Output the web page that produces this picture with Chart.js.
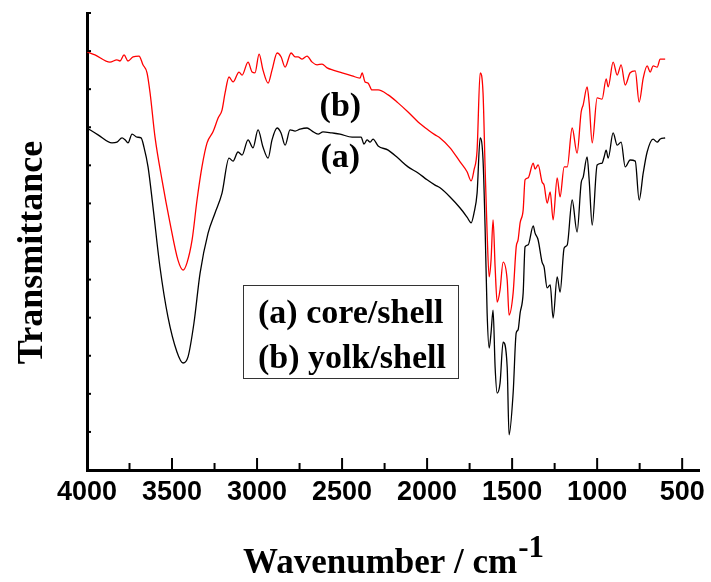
<!DOCTYPE html>
<html><head><meta charset="utf-8">
<script src="https://cdn.jsdelivr.net/npm/chart.js@4.4.0/dist/chart.umd.min.js"></script>
<style>html,body{margin:0;padding:0;background:#fff;}canvas{display:block;}</style>
</head><body>
<canvas id="c" width="711" height="582"></canvas>
<script>
// (a) core/shell — black
const wavenumberA = [4000,3935,3853,3824,3794,3776,3759,3735,3706,3682,
 3665,3641,3612,3571,3524,3471,3435,3406,3371,3335,
 3288,3247,3206,3165,3141,3112,3088,3053,3024,2994,
 2965,2935,2912,2882,2859,2835,2806,2776,2747,2706,
 2676,2641,2612,2559,2512,2441,2388,2371,2353,2335,
 2318,2288,2229,2171,2112,2053,2000,1953,1924,1865,
 1806,1765,1741,1724,1706,1688,1671,1659,1647,1635,
 1624,1612,1600,1588,1571,1553,1529,1518,1494,1476,
 1465,1453,1435,1424,1406,1376,1365,1347,1324,1312,
 1294,1276,1259,1235,1218,1194,1176,1147,1118,1094,
 1082,1059,1047,1029,1000,971,959,947,935,906,
 882,859,835,806,776,753,729,706,671,647,
 629,600];
const transmittanceA = [8.98,8.80,8.59,8.61,8.72,8.67,8.59,8.82,8.74,8.72,
 8.48,7.96,6.91,5.33,4.02,3.10,2.81,2.97,3.86,5.17,
 6.22,6.75,7.27,8.19,8.11,8.35,8.27,8.67,8.46,8.93,
 8.48,8.19,8.67,8.98,8.85,8.53,8.93,8.90,8.95,8.98,
 8.90,8.82,8.88,8.85,8.82,8.74,8.74,8.56,8.67,8.61,
 8.69,8.51,8.40,8.19,7.96,7.80,7.62,7.48,7.41,7.17,
 6.88,6.64,6.49,6.75,7.27,8.72,8.14,6.38,4.12,3.20,
 3.60,4.20,2.70,2.02,2.28,3.36,2.70,0.92,2.02,3.60,
 3.68,4.12,4.65,5.86,5.91,6.41,6.22,6.04,5.46,5.33,
 4.78,4.86,3.99,5.07,4.67,5.83,5.91,7.09,6.25,7.54,
 7.69,8.22,7.62,6.43,8.01,8.06,8.22,8.40,8.19,8.85,
 8.53,8.61,7.96,8.14,8.11,7.09,7.80,8.35,8.69,8.61,
 8.69,8.72];

// (b) yolk/shell — red
const wavenumberB = [4000,3953,3865,3824,3806,3782,3759,3729,3694,3671,
 3647,3629,3600,3559,3512,3465,3435,3412,3382,3353,
 3324,3294,3259,3229,3206,3188,3165,3141,3106,3088,
 3053,3029,3012,2988,2965,2935,2912,2882,2859,2835,
 2800,2776,2759,2735,2706,2676,2647,2618,2588,2553,
 2500,2441,2394,2382,2365,2347,2324,2288,2229,2171,
 2112,2053,1994,1953,1924,1865,1806,1765,1741,1724,
 1706,1688,1671,1659,1647,1635,1624,1612,1600,1588,
 1571,1553,1529,1518,1494,1476,1465,1453,1435,1424,
 1406,1376,1365,1347,1324,1312,1294,1276,1259,1235,
 1218,1194,1176,1147,1118,1094,1082,1059,1047,1029,
 1000,971,947,935,906,882,859,835,806,776,
 753,729,706,688,671,647,629,600];
const transmittanceB = [10.98,10.90,10.71,10.77,10.74,10.90,10.74,10.85,10.87,10.64,
 10.43,9.90,8.74,7.62,6.49,5.51,5.25,5.44,6.04,7.09,
 7.96,8.59,8.88,9.24,9.45,9.90,10.32,10.19,10.45,10.37,
 10.71,10.45,10.43,10.92,10.50,10.16,10.50,10.95,10.85,10.58,
 10.95,10.85,10.85,10.79,10.87,10.71,10.64,10.66,10.56,10.50,
 10.43,10.35,10.29,10.43,10.19,10.16,9.98,9.98,9.85,9.64,
 9.40,9.14,8.93,8.80,8.72,8.46,8.09,7.83,7.59,7.88,
 8.40,10.43,9.90,7.96,6.22,5.07,5.51,6.57,5.33,4.41,
 4.73,5.46,4.99,4.07,4.65,5.86,6.04,6.49,6.83,7.62,
 7.67,8.06,7.90,8.01,7.56,7.48,7.01,7.30,6.57,7.67,
 7.17,7.96,7.96,8.98,8.32,9.40,9.59,10.06,9.64,8.59,
 9.77,9.74,10.27,10.06,10.71,10.37,10.64,10.11,10.43,10.48,
 9.66,10.29,10.61,10.45,10.61,10.58,10.79,10.79];

const seriesLabels = ['(a) core/shell', '(b) yolk/shell'];
const curveTags = ['(a)', '(b)'];
const xTickValues = [4000,3750,3500,3250,3000,2750,2500,2250,2000,1750,1500,1250,1000,750,500];
const xTickLabels = ['4000','','3500','','3000','','2500','','2000','','1500','','1000','','500'];
const yTickValues = [0,1,2,3,4,5,6,7,8,9,10,11,12];
const xTitle = 'Wavenumber / cm';
const xTitleSup = '-1';
const yTitle = 'Transmittance';

const toPoints = (xs, ys) => xs.map((v, i) => ({x: v, y: ys[i]}));

const SERIF = '"Liberation Serif", "Times New Roman", serif';

const decor = {
  id: 'decor',
  afterDraw(chart) {
    const {ctx, chartArea: ca, scales: {x, y}} = chart;
    ctx.save();
    ctx.strokeStyle = '#000';
    ctx.lineWidth = 2;
    x.ticks.forEach(t => {
      const px = x.getPixelForValue(t.value);
      const len = t.value % 500 === 0 ? 12 : 7;
      ctx.beginPath(); ctx.moveTo(px, ca.bottom); ctx.lineTo(px, ca.bottom - len); ctx.stroke();
    });
    y.ticks.forEach(t => {
      const py = y.getPixelForValue(t.value);
      ctx.beginPath(); ctx.moveTo(ca.left, py); ctx.lineTo(ca.left + 4, py); ctx.stroke();
    });
    ctx.fillStyle = '#000';
    // x title with superscript
    ctx.textBaseline = 'alphabetic';
    ctx.textAlign = 'left';
    ctx.font = 'bold 35px ' + SERIF;
    const w1 = ctx.measureText(xTitle).width;
    ctx.font = 'bold 31px ' + SERIF;
    const w2 = ctx.measureText(xTitleSup).width;
    const cx = (ca.left + ca.right) / 2;
    const x0 = cx - (w1 + w2) / 2;
    const base = ca.bottom + 103;
    ctx.font = 'bold 35px ' + SERIF;
    ctx.fillText(xTitle, x0, base);
    ctx.font = 'bold 31px ' + SERIF;
    ctx.fillText(xTitleSup, x0 + w1 + 1, base - 16);
    // y title
    ctx.save();
    ctx.translate(42, (ca.top + ca.bottom) / 2 + 11);
    ctx.rotate(-Math.PI / 2);
    ctx.textAlign = 'center';
    ctx.font = 'bold 36px ' + SERIF;
    ctx.fillText(yTitle, 0, 0);
    ctx.restore();
    // curve tags
    ctx.textAlign = 'center';
    ctx.font = 'bold 34px ' + SERIF;
    const tagX = x.getPixelForValue(2510);
    ctx.fillText(curveTags[1], tagX, y.getPixelForValue(9.30));
    ctx.fillText(curveTags[0], tagX, y.getPixelForValue(7.96));
    // legend box
    ctx.lineWidth = 1;
    ctx.strokeStyle = '#333';
    ctx.strokeRect(243.5, 285.5, 215, 93);
    ctx.textAlign = 'left';
    ctx.fillText(chart.data.datasets[0].label, 258, 323);
    ctx.fillText(chart.data.datasets[1].label, 258, 368);
    ctx.restore();
  }
};

new Chart(document.getElementById('c'), {
  type: 'line',
  data: {
    datasets: [
      {label: seriesLabels[0], data: toPoints(wavenumberA, transmittanceA), borderColor: '#000000',
       borderWidth: 1.3, pointRadius: 0, cubicInterpolationMode: 'monotone', fill: false},
      {label: seriesLabels[1], data: toPoints(wavenumberB, transmittanceB), borderColor: '#ff0000',
       borderWidth: 1.3, pointRadius: 0, cubicInterpolationMode: 'monotone', fill: false}
    ]
  },
  options: {
    responsive: false,
    animation: false,
    events: [],
    layout: {padding: {top: 13, right: 11, left: 0, bottom: 0}},
    plugins: {legend: {display: false}, tooltip: {enabled: false}, title: {display: false}},
    scales: {
      x: {
        type: 'linear', reverse: true, min: 400, max: 4000,
        afterBuildTicks: s => { s.ticks = xTickValues.map(v => ({value: v})); },
        afterFit: s => { s.height = 112; },
        grid: {display: false, drawTicks: false},
        border: {display: true, width: 3, color: '#000'},
        ticks: {
          padding: 6, color: '#000', maxRotation: 0, autoSkip: false,
          font: {family: '"Liberation Sans", Arial, sans-serif', size: 27, weight: 'bold'},
          callback: (v) => xTickLabels[xTickValues.indexOf(v)] ?? ''
        }
      },
      y: {
        type: 'linear', min: 0, max: 12,
        afterBuildTicks: s => { s.ticks = yTickValues.map(v => ({value: v})); },
        afterFit: s => { s.width = 87; },
        grid: {display: false, drawTicks: false},
        border: {display: true, width: 3, color: '#000'},
        ticks: {display: false}
      }
    }
  },
  plugins: [decor]
});
</script>
</body></html>
